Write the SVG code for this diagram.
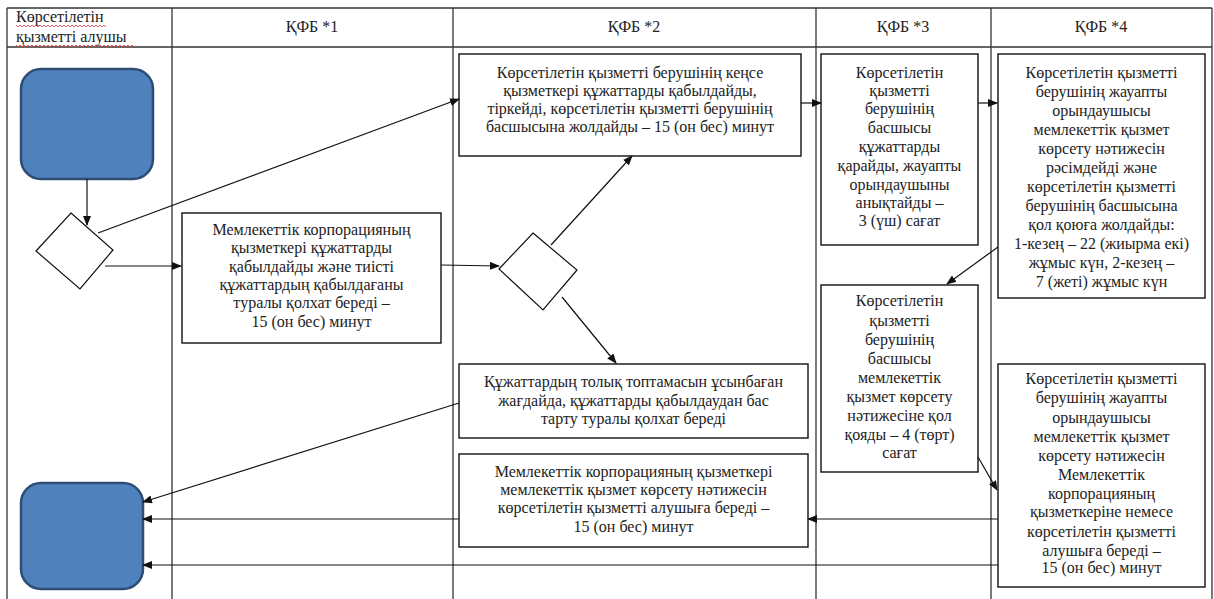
<svg xmlns="http://www.w3.org/2000/svg" width="1214" height="599" viewBox="0 0 1214 599">
<style>
.grid{stroke:#333;stroke-width:1.3;fill:none}
.box{fill:#fff;stroke:#111;stroke-width:1.4}
.term{fill:#4F81BD;stroke:#2C4D75;stroke-width:2.5}
.dec{fill:#fff;stroke:#111;stroke-width:1.2}
text{font-family:'Liberation Serif','DejaVu Serif',serif;font-size:16px;fill:#222}
.t{text-anchor:middle}
.c{stroke:#111;stroke-width:1.2;fill:none;marker-end:url(#ah)}
.sq{stroke:#d33;stroke-width:0.8;fill:none}
</style>
<defs>
<marker id="ah" markerWidth="10" markerHeight="8" refX="9" refY="4" orient="auto" markerUnits="userSpaceOnUse">
<path d="M0,0 L10,4 L0,8 Z" fill="#111"/>
</marker>
</defs>
<rect width="1214" height="599" fill="#fff"/>
<g id="table">
<line class="grid" x1="7" y1="8" x2="1212" y2="8"/>
<line class="grid" x1="7" y1="47" x2="1212" y2="47"/>
<line class="grid" x1="7" y1="8" x2="7" y2="599"/>
<line class="grid" x1="172" y1="8" x2="172" y2="599"/>
<line class="grid" x1="453" y1="8" x2="453" y2="599"/>
<line class="grid" x1="816" y1="8" x2="816" y2="599"/>
<line class="grid" x1="991" y1="8" x2="991" y2="599"/>
<line class="grid" x1="1212" y1="8" x2="1212" y2="599"/>
<text x="16" y="22">Көрсетілетін</text>
<text x="16" y="42">қызметті алушы</text>
<path class="sq" d="M16,25 l2,2 l2,-2 l2,2 l2,-2 l2,2 l2,-2 l2,2 l2,-2 l2,2 l2,-2 l2,2 l2,-2 l2,2 l2,-2 l2,2 l2,-2 l2,2 l2,-2 l2,2 l2,-2 l2,2 l2,-2 l2,2 l2,-2 l2,2 l2,-2 l2,2 l2,-2 l2,2 l2,-2 l2,2 l2,-2 l2,2 l2,-2 l2,2 l2,-2 l2,2 l2,-2 l2,2 l2,-2 l2,2 l2,-2 l2,2 l2,-2 l2,2"/>
<path class="sq" d="M16,45 l2,2 l2,-2 l2,2 l2,-2 l2,2 l2,-2 l2,2 l2,-2 l2,2 l2,-2 l2,2 l2,-2 l2,2 l2,-2 l2,2 l2,-2 l2,2 l2,-2 l2,2 l2,-2 l2,2 l2,-2 l2,2 l2,-2 l2,2 l2,-2 l2,2 l2,-2 l2,2 l2,-2 l2,2 l2,-2 l2,2 l2,-2 l2,2 l2,-2 l2,2 l2,-2 l2,2 l2,-2 l2,2 l2,-2 l2,2 l2,-2 l2,2 l2,-2 l2,2 l2,-2 l2,2 l2,-2 l2,2 l2,-2 l2,2 l2,-2 l2,2 l2,-2 l2,2 l2,-2 l2,2"/>
<text class="t" x="312" y="32">ҚФБ *1</text>
<text class="t" x="634" y="32">ҚФБ *2</text>
<text class="t" x="903" y="32">ҚФБ *3</text>
<text class="t" x="1101" y="32">ҚФБ *4</text>
</g>
<g id="start"><rect class="term" x="21" y="69" width="132" height="110" rx="20"/></g>
<g id="end"><rect class="term" x="21" y="483" width="122" height="106" rx="20"/></g>
<g id="dec1"><polygon class="dec" points="71,213 113,250 80,289 36,251"/></g>
<g id="dec2"><polygon class="dec" points="533,233 577,270 543,310 499,269"/></g>
<g id="n1">
<rect class="box" x="459" y="54" width="342" height="102"/>
<text class="t" x="630" y="78">Көрсетілетін қызметті берушінің кеңсе</text>
<text class="t" x="630" y="96">қызметкері құжаттарды қабылдайды,</text>
<text class="t" x="630" y="114">тіркейді, көрсетілетін қызметті берушінің</text>
<text class="t" x="630" y="132">басшысына жолдайды – 15 (он бес) минут</text>
</g>
<g id="n2">
<rect class="box" x="182" y="213" width="259" height="130"/>
<text class="t" x="311.5" y="235">Мемлекеттік корпорацияның</text>
<text class="t" x="311.5" y="253">қызметкері құжаттарды</text>
<text class="t" x="311.5" y="272">қабылдайды және тиісті</text>
<text class="t" x="311.5" y="290">құжаттардың қабылдағаны</text>
<text class="t" x="311.5" y="308">туралы қолхат береді –</text>
<text class="t" x="311.5" y="327">15 (он бес) минут</text>
</g>
<g id="n3">
<rect class="box" x="459" y="364" width="349" height="74"/>
<text class="t" x="633.5" y="387">Құжаттардың толық топтамасын ұсынбаған</text>
<text class="t" x="633.5" y="406">жағдайда, құжаттарды қабылдаудан бас</text>
<text class="t" x="633.5" y="424">тарту туралы қолхат береді</text>
</g>
<g id="n4">
<rect class="box" x="459" y="454" width="349" height="93"/>
<text class="t" x="633.5" y="477">Мемлекеттік корпорацияның қызметкері</text>
<text class="t" x="633.5" y="495">мемлекеттік қызмет көрсету нәтижесін</text>
<text class="t" x="633.5" y="513">көрсетілетін қызметті алушыға береді –</text>
<text class="t" x="633.5" y="532">15 (он бес) минут</text>
</g>
<g id="n5">
<rect class="box" x="821" y="54" width="157" height="191"/>
<text class="t" x="899.5" y="78">Көрсетілетін</text>
<text class="t" x="899.5" y="96">қызметті</text>
<text class="t" x="899.5" y="114">берушінің</text>
<text class="t" x="899.5" y="133">басшысы</text>
<text class="t" x="899.5" y="152">құжаттарды</text>
<text class="t" x="899.5" y="171">қарайды, жауапты</text>
<text class="t" x="899.5" y="190">орындаушыны</text>
<text class="t" x="899.5" y="208">анықтайды –</text>
<text class="t" x="899.5" y="226">3 (үш) сағат</text>
</g>
<g id="n6">
<rect class="box" x="998" y="54" width="207" height="244"/>
<text class="t" x="1101.5" y="78">Көрсетілетін қызметті</text>
<text class="t" x="1101.5" y="97">берушінің жауапты</text>
<text class="t" x="1101.5" y="116">орындаушысы</text>
<text class="t" x="1101.5" y="135">мемлекеттік қызмет</text>
<text class="t" x="1101.5" y="154">көрсету нәтижесін</text>
<text class="t" x="1101.5" y="173">рәсімдейді және</text>
<text class="t" x="1101.5" y="192">көрсетілетін қызметті</text>
<text class="t" x="1101.5" y="211">берушінің басшысына</text>
<text class="t" x="1101.5" y="230">қол қоюға жолдайды:</text>
<text class="t" x="1101.5" y="249">1-кезең – 22 (жиырма екі)</text>
<text class="t" x="1101.5" y="268">жұмыс күн, 2-кезең –</text>
<text class="t" x="1101.5" y="287">7 (жеті) жұмыс күн</text>
</g>
<g id="n7">
<rect class="box" x="821" y="285" width="157" height="187"/>
<text class="t" x="899.5" y="306">Көрсетілетін</text>
<text class="t" x="899.5" y="326">қызметті</text>
<text class="t" x="899.5" y="345">берушінің</text>
<text class="t" x="899.5" y="364">басшысы</text>
<text class="t" x="899.5" y="383">мемлекеттік</text>
<text class="t" x="899.5" y="402">қызмет көрсету</text>
<text class="t" x="899.5" y="421">нәтижесіне қол</text>
<text class="t" x="899.5" y="440">қояды – 4 (төрт)</text>
<text class="t" x="899.5" y="458">сағат</text>
</g>
<g id="n8">
<rect class="box" x="998" y="364" width="207" height="223"/>
<text class="t" x="1101.5" y="384">Көрсетілетін қызметті</text>
<text class="t" x="1101.5" y="403">берушінің жауапты</text>
<text class="t" x="1101.5" y="423">орындаушысы</text>
<text class="t" x="1101.5" y="442">мемлекеттік қызмет</text>
<text class="t" x="1101.5" y="461">көрсету нәтижесін</text>
<text class="t" x="1101.5" y="480">Мемлекеттік</text>
<text class="t" x="1101.5" y="499">корпорацияның</text>
<text class="t" x="1101.5" y="517">қызметкеріне немесе</text>
<text class="t" x="1101.5" y="537">көрсетілетін қызметті</text>
<text class="t" x="1101.5" y="556">алушыға береді –</text>
<text class="t" x="1101.5" y="573">15 (он бес) минут</text>
</g>
<g id="connectors">
<line class="c" x1="87" y1="179" x2="87" y2="225"/>
<line class="c" x1="98" y1="233" x2="459" y2="99"/>
<line class="c" x1="105" y1="266" x2="181" y2="266"/>
<line class="c" x1="441" y1="265" x2="499" y2="266"/>
<line class="c" x1="551" y1="245" x2="632" y2="156"/>
<line class="c" x1="562" y1="297" x2="616" y2="363"/>
<line class="c" x1="801" y1="103" x2="821" y2="103"/>
<line class="c" x1="978" y1="103" x2="997" y2="103"/>
<line class="c" x1="998" y1="247" x2="947" y2="284"/>
<line class="c" x1="978" y1="457" x2="997" y2="490"/>
<line class="c" x1="998" y1="519" x2="808" y2="519"/>
<line class="c" x1="459" y1="403" x2="143" y2="502"/>
<line class="c" x1="459" y1="519" x2="143" y2="519"/>
<line class="c" x1="998" y1="565" x2="143" y2="565"/>
</g>
</svg>
